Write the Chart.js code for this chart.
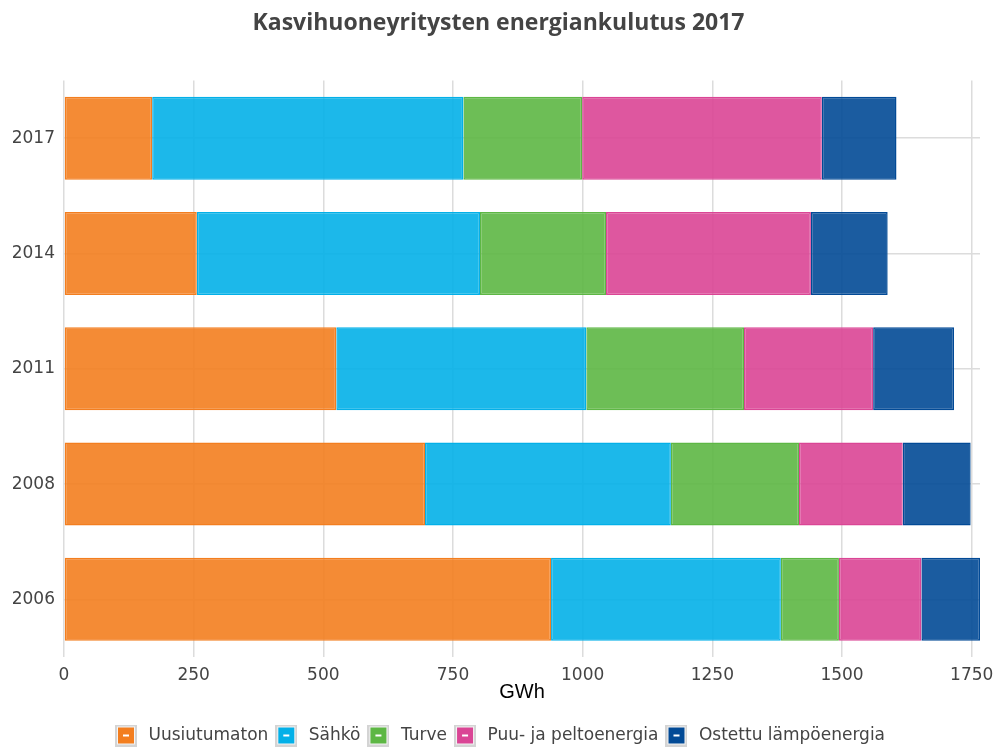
<!DOCTYPE html>
<html>
<head>
<meta charset="utf-8">
<script src="https://cdn.jsdelivr.net/npm/chart.js@4"></script>
<style>
  html, body { margin: 0; padding: 0; background: #fff; }
  #wrap { width: 997px; height: 747px; }
</style>
</head>
<body>
<div id="wrap"><canvas id="energyChart" width="997" height="747"></canvas></div>
<script>
// data (GWh)
const years = ['2017', '2014', '2011', '2008', '2006'];
const uusiutumaton = [170, 256, 525, 696, 939];
const sahko = [600, 546, 482, 474, 443];
const turve = [229, 243, 304, 247, 112];
const puuPelto = [462, 395, 249, 200, 159];
const ostettu = [144, 148, 156, 131, 113];
const xTicks = [0, 250, 500, 750, 1000, 1250, 1500, 1750];

const seriesNames = ['Uusiutumaton', 'Sähkö', 'Turve', 'Puu- ja peltoenergia', 'Ostettu lämpöenergia'];
const seriesData = [uusiutumaton, sahko, turve, puuPelto, ostettu];
const fills = ['rgba(243,126,31,0.9)', 'rgba(3,176,232,0.9)', 'rgba(93,183,68,0.9)', 'rgba(218,69,149,0.9)', 'rgba(2,74,150,0.9)'];
const lines = ['#f37e1f', '#03b0e8', '#5db744', '#da4595', '#024a96'];

// little legend swatch: grey frame, coloured box, white dash
function makeSwatch(color) {
    const c = document.createElement('canvas');
    c.width = 22; c.height = 22;
    const g = c.getContext('2d');
    g.fillStyle = '#d4d4d4';
    g.fillRect(0, 0, 22, 22);
    g.fillStyle = '#f4f4f4';
    g.fillRect(2, 2, 18, 18);
    g.fillStyle = color;
    g.fillRect(3, 3, 16, 16);
    g.fillStyle = '#fff';
    g.fillRect(8, 10, 6, 2);
    return c;
}

const datasets = seriesNames.map((name, i) => ({
    label: name,
    data: seriesData[i],
    backgroundColor: fills[i],
    borderColor: lines[i],
    borderWidth: 1.5,
    borderSkipped: false,
    barPercentage: 0.72,
    categoryPercentage: 1,
    pointStyle: makeSwatch(lines[i])
}));

const ctx = document.getElementById('energyChart').getContext('2d');
new Chart(ctx, {
    type: 'bar',
    data: { labels: years, datasets: datasets },
    options: {
        indexAxis: 'y',
        responsive: false,
        animation: false,
        layout: { padding: { left: 0, right: 0, top: 0, bottom: -7 } },
        plugins: {
            title: {
                display: true,
                text: 'Kasvihuoneyritysten energiankulutus 2017',
                color: '#444',
                font: { family: 'Open Sans', size: 23, weight: 'bold' },
                padding: { top: 10, bottom: 43 }
            },
            legend: {
                position: 'bottom',
                labels: {
                    usePointStyle: true,
                    pointStyleWidth: 28,
                    padding: 4,
                    color: '#444',
                    font: { family: 'DejaVu Sans', size: 17 }
                }
            },
            tooltip: { enabled: false }
        },
        scales: {
            x: {
                stacked: true,
                min: 0,
                max: 1766,
                afterBuildTicks: scale => { scale.ticks = xTicks.map(v => ({ value: v })); },
                afterFit: scale => {
                    scale.height = 66;
                    scale.paddingLeft = 0;
                    scale.paddingRight = 17;
                },
                grid: { color: '#dcdcdc', lineWidth: 1.5, drawTicks: false },
                border: { display: false },
                ticks: {
                    color: '#444',
                    padding: 8,
                    font: { family: 'DejaVu Sans', size: 17 },
                    callback: v => String(v)
                },
                title: {
                    display: true,
                    text: 'GWh',
                    color: '#000',
                    font: { family: 'Liberation Sans', size: 20 },
                    padding: { top: 0, bottom: 19 }
                }
            },
            y: {
                stacked: true,
                afterFit: scale => { scale.width = 64; },
                grid: { color: '#dcdcdc', lineWidth: 1.5, drawTicks: false, offset: false },
                border: { display: false },
                ticks: { color: '#444', padding: 9, font: { family: 'DejaVu Sans', size: 17 } }
            }
        }
    }
});
</script>
</body>
</html>
